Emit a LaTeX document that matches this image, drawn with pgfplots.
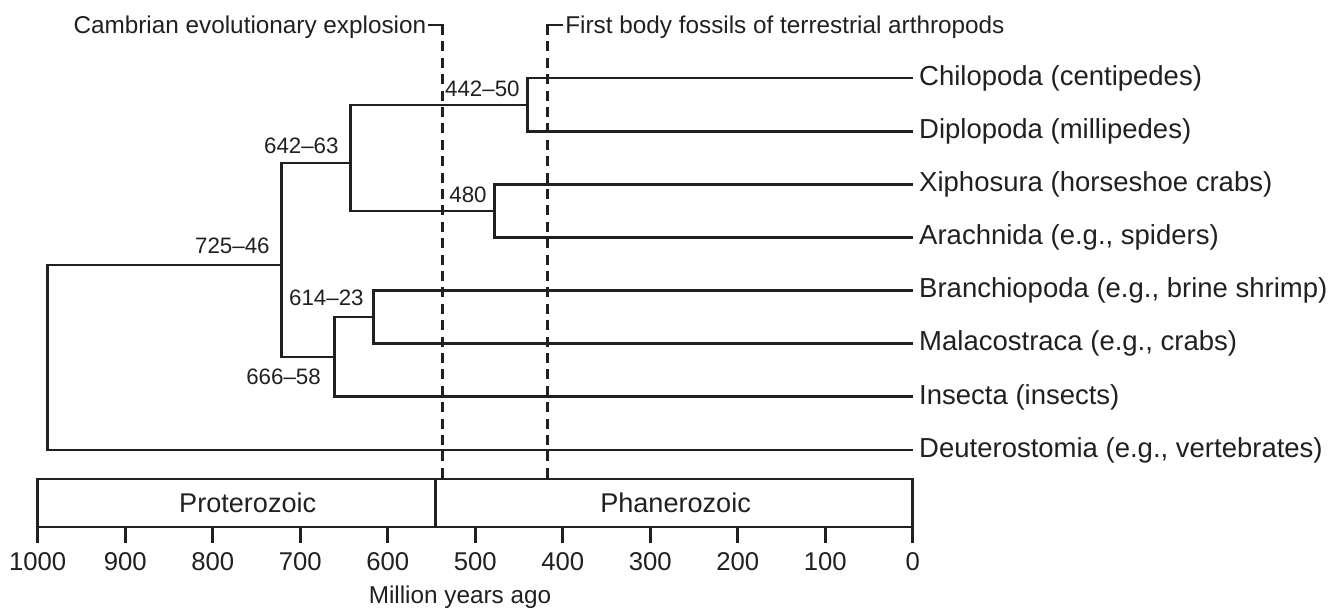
\documentclass[border=0pt]{standalone}
\usepackage{pgfplots}
\pgfplotsset{compat=1.18}
\usepackage{fontspec}
\setmainfont{Liberation Sans}
\definecolor{ink}{HTML}{231F20}
\pgfplotsset{tree/.style={ink, line width=1.45bp, line join=miter, line cap=rect, mark=none, forget plot}}
\begin{document}
\begin{tikzpicture}
\begin{axis}[
  scale only axis, width=437.5bp, height=233.5bp,
  xmin=0, xmax=1000, x dir=reverse,
  ymin=-527, ymax=-60,
  axis x line=bottom, axis y line=none,
  x axis line style={-, line width=1.45bp, ink},
  xtick={0,100,...,1000},
  tick align=outside,
  major tick length=8bp,
  x tick style={line width=1.45bp, ink},
  xticklabel style={font=\fontsize{12.9}{15}\selectfont, text=ink, yshift=-1.5bp},
  /pgf/number format/assume math mode=true,
  /pgf/number format/1000 sep={},
  clip=false,
]
% invisible frame fixing the picture size (1330 x 609 px at 0.5bp/px)
\path (axis cs:1043.1,0) rectangle (axis cs:-476.9,-609);

% tree
\addplot[tree] coordinates {(721.6,-265) (989,-265) (989,-450) (1,-450)};
\addplot[tree] coordinates {(642.6,-163) (721.6,-163) (721.6,-357) (661,-357)};
\addplot[tree] coordinates {(440,-105) (642.6,-105) (642.6,-211) (477.8,-211)};
\addplot[tree] coordinates {(1,-78) (440,-78) (440,-131.1) (1,-131.1)};
\addplot[tree] coordinates {(1,-184.3) (477.8,-184.3) (477.8,-237.4) (1,-237.4)};
\addplot[tree] coordinates {(616,-317) (661,-317) (661,-396.9) (1,-396.9)};
\addplot[tree] coordinates {(1,-290.6) (616,-290.6) (616,-343.7) (1,-343.7)};

% leaf labels
\begin{scope}[every node/.style={anchor=west, inner sep=0pt, xshift=3.5bp, text=ink, font=\fontsize{13.8}{16}\selectfont}]
\node at (axis cs:1,-78) {Chilopoda (centipedes)};
\node at (axis cs:1,-131.1) {Diplopoda (millipedes)};
\node at (axis cs:1,-184.3) {Xiphosura (horseshoe crabs)};
\node at (axis cs:1,-237.4) {Arachnida (e.g., spiders)};
\node at (axis cs:1,-290.6) {Branchiopoda (e.g., brine shrimp)};
\node at (axis cs:1,-343.7) {Malacostraca (e.g., crabs)};
\node at (axis cs:1,-396.9) {Insecta (insects)};
\node at (axis cs:1,-450) {Deuterostomia (e.g., vertebrates)};
\end{scope}

% node ages
\begin{scope}[every node/.style={anchor=east, inner sep=0pt, text=ink, font=\fontsize{11.2}{13}\selectfont}]
\node at (axis cs:448.8,-89) {442\textendash 50};
\node at (axis cs:486.5,-195) {480};
\node at (axis cs:655.7,-146) {642\textendash 63};
\node at (axis cs:734.5,-246) {725\textendash 46};
\node at (axis cs:627.1,-298) {614\textendash 23};
\node at (axis cs:676,-377) {666\textendash 58};
\end{scope}

% dashed event lines
\draw[ink, line width=1.45bp, dash pattern=on 5bp off 3.2bp] (axis cs:537.1,-25) -- (axis cs:537.1,-479);
\draw[ink, line width=1.45bp] (axis cs:553.4,-25) -- (axis cs:537.1,-25) -- (axis cs:537.1,-30);
\draw[ink, line width=1.45bp, dash pattern=on 5bp off 3.2bp] (axis cs:417.6,-25) -- (axis cs:417.6,-479);
\draw[ink, line width=1.45bp] (axis cs:399.2,-25) -- (axis cs:417.6,-25) -- (axis cs:417.6,-30);
\node[anchor=base east, inner sep=0pt, text=ink, font=\fontsize{12.2}{14}\selectfont] at (axis cs:555.5,-33.5) {Cambrian evolutionary explosion};
\node[anchor=base west, inner sep=0pt, text=ink, font=\fontsize{12.2}{14}\selectfont] at (axis cs:397.4,-33.5) {First body fossils of terrestrial arthropods};

% eon box
\draw[ink, line width=1.45bp] (axis cs:1000,-479) rectangle (axis cs:0,-527);
\draw[ink, line width=1.45bp] (axis cs:545,-479) -- (axis cs:545,-527);
\node[inner sep=0pt, text=ink, font=\fontsize{13.6}{16}\selectfont] at (axis cs:760,-503) {Proterozoic};
\node[inner sep=0pt, text=ink, font=\fontsize{13.6}{16}\selectfont] at (axis cs:271,-503) {Phanerozoic};

% axis label
\node[anchor=base, inner sep=0pt, text=ink, font=\fontsize{12.2}{14}\selectfont] at (axis cs:517.4,-603) {Million years ago};
\end{axis}
\end{tikzpicture}
\end{document}
